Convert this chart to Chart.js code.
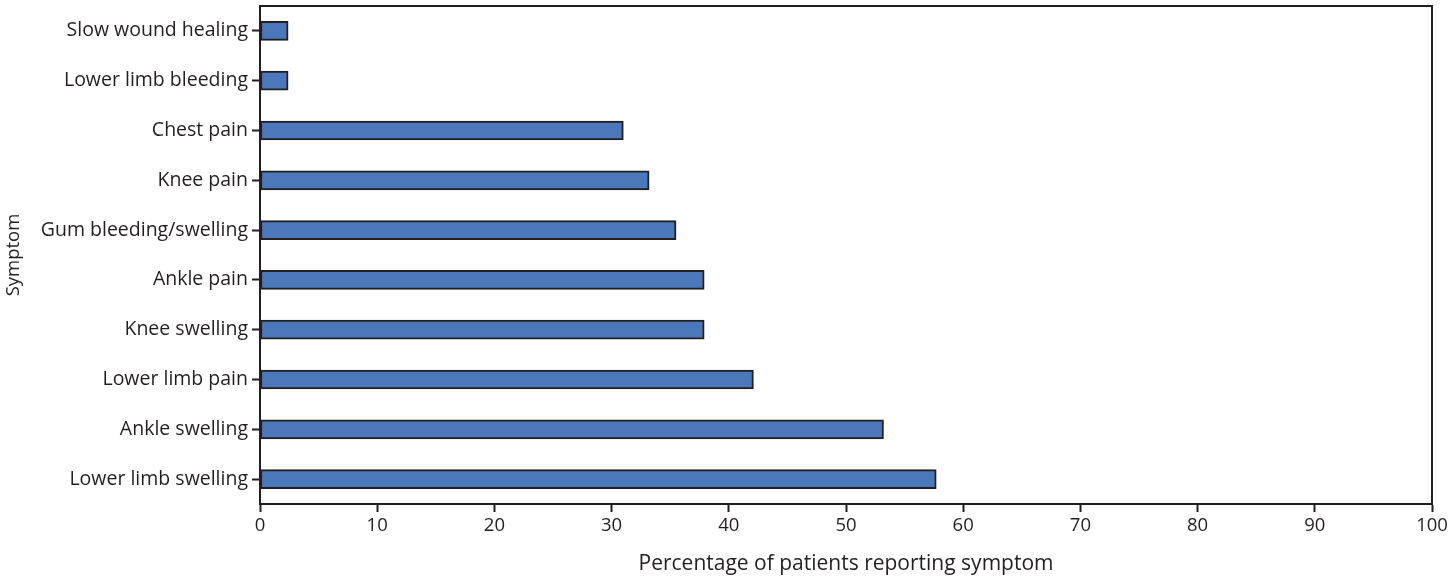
<!DOCTYPE html>
<html>
<head>
<meta charset="utf-8">
<script src="https://cdn.jsdelivr.net/npm/chart.js@4"></script>
<style>
  html, body { margin: 0; padding: 0; background: #fff; }
  #wrap { width: 1452px; height: 579px; }
</style>
</head>
<body>
<div id="wrap"><canvas id="myChart" width="1452" height="579"></canvas></div>
<script>
const symptoms = ['Slow wound healing', 'Lower limb bleeding', 'Chest pain', 'Knee pain',
  'Gum bleeding/swelling', 'Ankle pain', 'Knee swelling', 'Lower limb pain',
  'Ankle swelling', 'Lower limb swelling'];
const percentages = [2.4, 2.4, 31.0, 33.2, 35.5, 37.9, 37.9, 42.1, 53.2, 57.7];
const xTicks = [0, 10, 20, 30, 40, 50, 60, 70, 80, 90, 100];

const fontFam = '"Open Sans", "Noto Sans", sans-serif';

// draws the closed frame round the plot
const frame = {
  id: 'frame',
  afterDraw(chart) {
    const a = chart.chartArea;
    const c = chart.ctx;
    c.save();
    c.strokeStyle = '#231f20';
    c.lineWidth = 2;
    c.strokeRect(a.left, a.top, a.right - a.left, a.bottom - a.top);
    c.restore();
  }
};

const ctx = document.getElementById('myChart').getContext('2d');
const chart = new Chart(ctx, {
  type: 'bar',
  data: {
    labels: symptoms,
    datasets: [{
      data: percentages,
      backgroundColor: '#4a78bb',
      borderColor: '#231f20',
      borderWidth: 2,
      borderSkipped: false,
      barThickness: 19
    }]
  },
  options: {
    indexAxis: 'y',
    responsive: false,
    animation: false,
    layout: { padding: { top: 6, right: 20, bottom: 2, left: 3 } },
    plugins: { legend: { display: false }, tooltip: { enabled: false } },
    scales: {
      x: {
        min: 0,
        max: 100,
        afterBuildTicks: (s) => { s.ticks = xTicks.map(v => ({ value: v })); },
        afterFit: (s) => { s.height = 73; },
        grid: { drawOnChartArea: false, drawTicks: true, tickLength: 8, tickColor: '#231f20', tickWidth: 2 },
        border: { display: true, color: '#231f20', width: 2 },
        ticks: { color: '#231f20', font: { family: fontFam, size: 18.5 }, padding: 3, maxRotation: 0 },
        title: { display: true, text: 'Percentage of patients reporting symptom', color: '#231f20',
          font: { family: fontFam, size: 21 }, padding: { top: 7, bottom: 0 } }
      },
      y: {
        afterFit: (s) => { s.width = 257; s.paddingTop = 0; s.paddingBottom = 0; },
        grid: { offset: false, drawOnChartArea: false, drawTicks: true, tickLength: 8, tickColor: '#231f20', tickWidth: 2 },
        border: { display: true, color: '#231f20', width: 2 },
        ticks: { color: '#231f20', font: { family: fontFam, size: 19.5 }, padding: 4 },
        title: { display: true, text: 'Symptom', color: '#231f20',
          font: { family: fontFam, size: 18.5 }, padding: { top: 0, bottom: 0 } }
      }
    }
  },
  plugins: [frame]
});
</script>
</body>
</html>
